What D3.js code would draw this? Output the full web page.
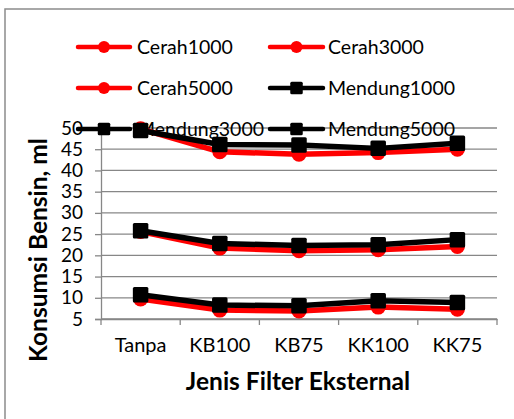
<!DOCTYPE html>
<html><head><meta charset="utf-8">
<script src="https://cdn.jsdelivr.net/npm/d3@7"></script>
<style>body{margin:0;background:#fff}svg{display:block}text{font-family:Lato,"Open Sans",sans-serif}</style>
</head><body><svg id="c" width="514" height="419"></svg>
<script>
const categories = ["Tanpa","KB100","KB75","KK100","KK75"];
const seriesNames = ["Cerah1000","Cerah3000","Cerah5000","Mendung1000","Mendung3000","Mendung5000"];
const cerah1000 = [9.7, 7.1, 6.9, 7.8, 7.3];
const cerah3000 = [25.6, 21.7, 21.1, 21.3, 22.1];
const cerah5000 = [49.8, 44.4, 43.8, 44.2, 45.0];
const mendung1000 = [10.7, 8.3, 8.1, 9.3, 8.9];
const mendung3000 = [25.8, 22.8, 22.3, 22.5, 23.7];
const mendung5000 = [49.4, 46.1, 46.0, 45.2, 46.4];
const yTicks = [5,10,15,20,25,30,35,40,45,50];
const xTitle = "Jenis Filter Eksternal";
const yTitle = "Konsumsi Bensin, ml";

const series = [
  {name: seriesNames[0], values: cerah1000, type: "circle", color: "#ff0000"},
  {name: seriesNames[1], values: cerah3000, type: "circle", color: "#ff0000"},
  {name: seriesNames[2], values: cerah5000, type: "circle", color: "#ff0000"},
  {name: seriesNames[3], values: mendung1000, type: "square", color: "#000000"},
  {name: seriesNames[4], values: mendung3000, type: "square", color: "#000000"},
  {name: seriesNames[5], values: mendung5000, type: "square", color: "#000000"}
];

const svg = d3.select("#c");
const gray = "#878787";
svg.append("rect").attr("x",5).attr("y",9).attr("width",530).attr("height",430)
  .attr("fill","none").attr("stroke","#8c8c8c").attr("stroke-width",1.5);

const x = d3.scaleBand().domain(categories).range([101,497]).padding(0);
const y = d3.scaleLinear().domain([5,50]).range([319,128]);

// gridlines
svg.append("g").selectAll("line").data(yTicks).join("line")
  .attr("x1",101).attr("x2",497).attr("y1",d=>y(d)).attr("y2",d=>y(d))
  .attr("stroke",gray).attr("stroke-width",1.3);

// y axis
const yAxis = svg.append("g").attr("transform","translate(101,0)")
  .call(d3.axisLeft(y).tickValues(yTicks).tickSize(6).tickPadding(12).tickFormat(d3.format("d")));
yAxis.select(".domain").attr("stroke",gray).attr("stroke-width",1.3);
yAxis.selectAll(".tick line").attr("stroke",gray).attr("stroke-width",1.3);
yAxis.selectAll("text").attr("font-size",19).attr("fill","#000").attr("font-family","Lato");

// x axis
const xAxis = svg.append("g").attr("transform","translate(0,319)")
  .call(d3.axisBottom(x).tickSize(0).tickPadding(19));
xAxis.select(".domain").attr("stroke",gray).attr("stroke-width",1.3);
xAxis.selectAll("text").attr("font-size",20).attr("fill","#000").attr("font-family","Lato");
// category boundary ticks
const bounds = categories.map(c=>x(c)).concat([x(categories[categories.length-1])+x.bandwidth()]);
svg.append("g").selectAll("line").data(bounds).join("line")
  .attr("x1",d=>d).attr("x2",d=>d).attr("y1",319).attr("y2",325)
  .attr("stroke",gray).attr("stroke-width",1.3);

// titles
svg.append("text").attr("x",298).attr("y",390).attr("text-anchor","middle")
  .attr("font-size",24.5).attr("font-weight","bold").text(xTitle);
svg.append("text").attr("transform","translate(47,250) rotate(-90)").attr("text-anchor","middle")
  .attr("font-size",24.5).attr("font-weight","bold").text(yTitle);

function marker(g, type, cx, cy, size, color){
  if(type==="circle"){
    g.append("circle").attr("cx",cx).attr("cy",cy).attr("r",size/2).attr("fill",color);
  } else {
    g.append("rect").attr("x",cx-size/2).attr("y",cy-size/2).attr("width",size).attr("height",size)
      .attr("rx",1.5).attr("fill",color);
  }
}

// legend
const legend = svg.append("g");
const legCols = [{lx1:78,lx2:130,tx:137},{lx1:270,lx2:323,tx:328}];
const legRows = [47, 88, 129];
series.forEach((s,i)=>{
  const c = legCols[i%2], r = legRows[Math.floor(i/2)];
  const g = legend.append("g");
  g.append("line").attr("x1",c.lx1).attr("x2",c.lx2).attr("y1",r).attr("y2",r)
    .attr("stroke",s.color).attr("stroke-width",4.5).attr("stroke-linecap","round");
  marker(g, s.type, (c.lx1+c.lx2)/2, r, s.type==="circle"?12:12.5, s.color);
  g.append("text").attr("x",c.tx).attr("y",r).attr("dy","0.35em").attr("font-size",19.5).text(s.name);
});

// data
const cx = c => x(c) + x.bandwidth()/2;
const line = d3.line().x((d,i)=>cx(categories[i])).y(d=>y(d));
series.forEach(s=>{
  const g = svg.append("g");
  g.append("path").attr("d",line(s.values)).attr("fill","none").attr("stroke",s.color)
    .attr("stroke-width",5.5).attr("stroke-linejoin","round");
  s.values.forEach((v,i)=>marker(g, s.type, cx(categories[i]), y(v), s.type==="circle"?15:15.5, s.color));
});
</script></body></html>
